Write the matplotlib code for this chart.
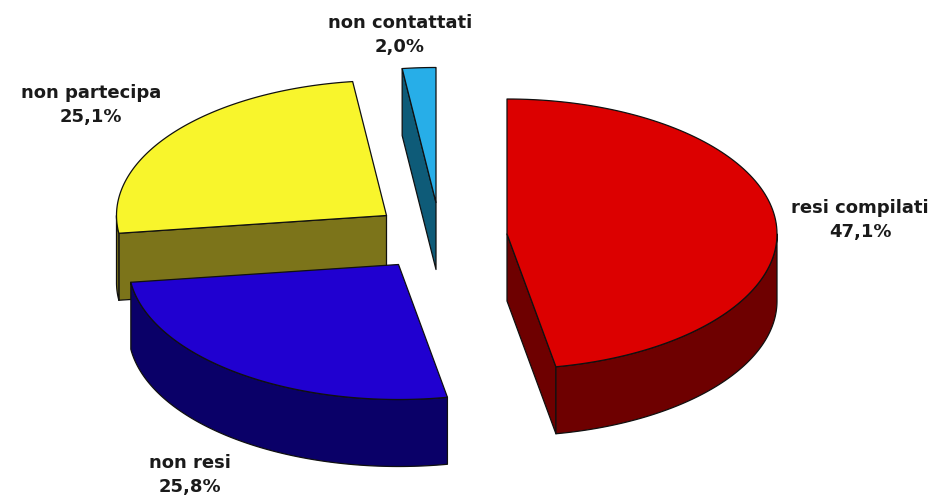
"""Exploded 3D-look pie of questionnaire outcomes, drawn from plain polygons."""

import numpy as np
import matplotlib
matplotlib.use("Agg")
import matplotlib.pyplot as plt
from matplotlib.patches import Polygon

labels = ["resi compilati", "non resi", "non partecipa", "non contattati"]
shares = [47.1, 25.8, 25.1, 2.0]
share_text = ["47,1%", "25,8%", "25,1%", "2,0%"]

top_colors = ["#dc0000", "#2000d0", "#f8f52c", "#27aee8"]
side_colors = ["#6e0000", "#0a0068", "#7c741a", "#0e5b78"]
# apex of each slice once exploded
apex = [(507, 234), (398.5, 264.5), (386.5, 215.5), (436, 202.5)]
label_pos = [(860, 220), (190, 475), (91, 105), (400, 35)]

RX, RY, DEPTH = 270.0, 135.0, 67.0
W, H = 943, 499


def rim(cx, cy, a0, a1, n=120):
    # angles run clockwise from twelve o'clock, in degrees
    t = np.radians(np.linspace(a0, a1, n))
    return np.column_stack([cx + RX * np.sin(t), cy - RY * np.cos(t)])


def patch(ax, pts, color, z):
    ax.add_patch(Polygon(pts, closed=True, facecolor=color, edgecolor="#101010",
                         linewidth=0.9, joinstyle="round", zorder=z))


def draw_slice(ax, i, a0, a1, z):
    cx, cy = apex[i]
    c = np.array([cx, cy])
    down = np.array([0, DEPTH])
    # a cut face shows when its outward normal points down the screen
    for a, normal in ((a0, a0 - 90), (a1, a1 + 90)):
        if np.cos(np.radians(normal)) < -1e-6:
            p = rim(cx, cy, a, a, 1)[0]
            patch(ax, [c, p, p + down, c + down], side_colors[i], z)
    # outer wall only on the front half of the ellipse
    lo, hi = max(a0, 90), min(a1, 270)
    if lo < hi:
        r = rim(cx, cy, lo, hi)
        patch(ax, np.vstack([r, r[::-1] + down]), side_colors[i], z)
    patch(ax, np.vstack([[c], rim(cx, cy, a0, a1)]), top_colors[i], z + 0.5)


fig = plt.figure(figsize=(W / 100, H / 100), dpi=100)
ax = fig.add_axes([0, 0, 1, 1])
ax.set_xlim(0, W)
ax.set_ylim(H, 0)
ax.axis("off")

edges = np.concatenate([[0], np.cumsum(shares)]) * 3.6
# back slices first so the front ones overlap them
for z, i in enumerate([2, 3, 1, 0]):
    draw_slice(ax, i, edges[i], edges[i + 1], z + 1)

for name, val, (x, y) in zip(labels, share_text, label_pos):
    ax.text(x, y, f"{name}\n{val}", ha="center", va="center", fontsize=13,
            fontweight="bold", color="#1a1a1a", linespacing=1.38,
            family="DejaVu Sans", zorder=10)

fig.savefig("out.png", dpi=100)
